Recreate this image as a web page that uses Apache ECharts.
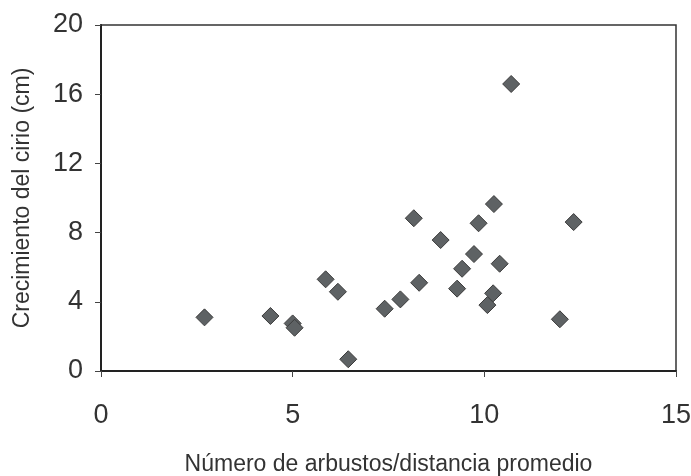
<!DOCTYPE html>
<html>
<head>
<meta charset="utf-8">
<script src="https://cdn.jsdelivr.net/npm/echarts@6/dist/echarts.min.js"></script>
<style>html,body{margin:0;padding:0;background:#fff;}#c{width:691px;height:476px;}</style>
</head>
<body>
<div id="c"></div>
<script>
const xValues = [2.70, 4.42, 5.00, 5.05, 5.86, 6.18, 6.45, 7.40, 7.81, 8.16, 8.30, 8.86, 9.29, 9.42, 9.73, 9.85, 10.08, 10.23, 10.25, 10.40, 10.70, 11.97, 12.33];
const yValues = [3.10, 3.18, 2.75, 2.50, 5.30, 4.58, 0.68, 3.60, 4.14, 8.83, 5.10, 7.57, 4.76, 5.91, 6.76, 8.54, 3.81, 4.49, 9.65, 6.20, 16.59, 2.99, 8.61];
const xTicks = [0, 5, 10, 15];
const yTicks = [0, 4, 8, 12, 16, 20];
const xTitle = 'Número de arbustos/distancia promedio';
const yTitle = 'Crecimiento del cirio (cm)';

const points = xValues.map((x, i) => [x, yValues[i]]);
const font = '"Liberation Sans", Arial, sans-serif';
const chart = echarts.init(document.getElementById('c'));
chart.setOption({
  animation: false,
  backgroundColor: '#fff',
  grid: { left: 101, right: 15, top: 25, bottom: 105, containLabel: false, outerBoundsMode: 'none', show: true, borderColor: '#333', borderWidth: 1.5, backgroundColor: 'transparent' },
  xAxis: {
    type: 'value', min: xTicks[0], max: xTicks[xTicks.length - 1], interval: 5,
    name: xTitle, nameLocation: 'middle', nameGap: 82,
    nameTextStyle: { fontFamily: font, fontSize: 23, color: '#333' },
    axisLine: { show: true, lineStyle: { color: '#222', width: 2 } },
    axisTick: { show: true, length: 6, lineStyle: { color: '#444' } },
    axisLabel: { fontFamily: font, fontSize: 27, color: '#333', margin: 31 },
    splitLine: { show: false }
  },
  yAxis: {
    type: 'value', min: yTicks[0], max: yTicks[yTicks.length - 1], interval: 4,
    name: yTitle, nameLocation: 'middle', nameGap: 67,
    nameTextStyle: { fontFamily: font, fontSize: 23, color: '#333' },
    axisLine: { show: true, lineStyle: { color: '#222', width: 2 } },
    axisTick: { show: true, length: 6, lineStyle: { color: '#444' } },
    axisLabel: { fontFamily: font, fontSize: 27, color: '#333', margin: 18 },
    splitLine: { show: false }
  },
  series: [{
    type: 'scatter',
    data: points,
    symbol: 'diamond',
    symbolSize: [17, 17],
    itemStyle: { color: '#5e6264', borderColor: '#3c3c3c', borderWidth: 1, opacity: 1 }
  }]
});
</script>
</body>
</html>
